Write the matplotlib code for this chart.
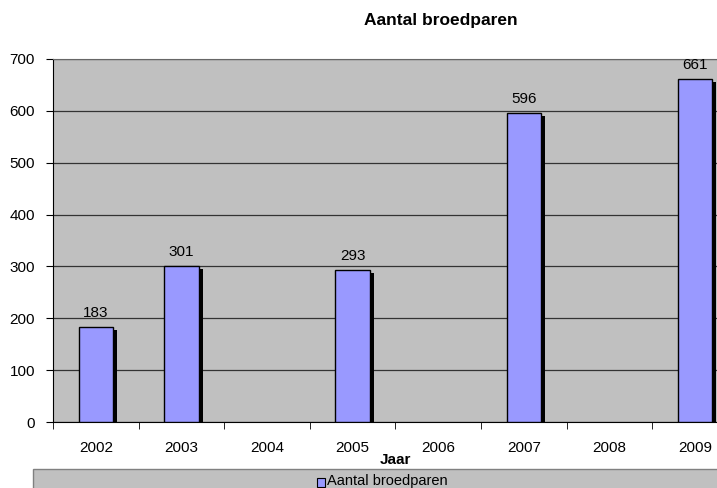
import matplotlib.pyplot as plt
import matplotlib.patheffects as pe
from matplotlib.patches import Rectangle

plt.rcParams['font.family'] = ['Liberation Sans', 'DejaVu Sans']

# data
years = ['2002', '2003', '2004', '2005', '2006', '2007', '2008', '2009']
pairs = [183, 301, None, 293, None, 596, None, 661]

fig = plt.figure(figsize=(7.17, 4.88), dpi=100)
# plot area runs past the right edge, like the cropped original
ax = fig.add_axes([53 / 717, 1 - 422 / 488, 8 * 85.6 / 717, 363 / 488])
ax.set_facecolor('#C0C0C0')

xs = [i for i, v in enumerate(pairs) if v is not None]
vals = [v for v in pairs if v is not None]
bars = ax.bar(xs, vals, width=0.4, color='#9999FF', edgecolor='black',
              linewidth=1, zorder=3)
for b in bars:
    b.set_path_effects([pe.SimplePatchShadow(offset=(3, -2), shadow_rgbFace='black', alpha=1.0),
                        pe.Normal()])
for x, v in zip(xs, vals):
    ax.text(x, v + 13, str(v), ha='center', va='bottom', fontsize=11)

ax.set_xlim(-0.5, 7.5)
ax.set_ylim(0, 700)
ax.set_yticks(range(0, 701, 100))
ax.yaxis.grid(True, color='#333333', linewidth=0.9, zorder=1)
ax.set_axisbelow(True)

ax.set_xticks(range(8))
ax.set_xticklabels(years, fontsize=11)
ax.set_xticks([i + 0.5 for i in range(-1, 8)], minor=True)
ax.tick_params(axis='x', which='major', length=0, pad=14)
ax.tick_params(axis='x', which='minor', length=5, direction='out', color='black')
ax.tick_params(axis='y', length=5, direction='out', labelsize=11, pad=8)

for side in ['top', 'right']:
    ax.spines[side].set_color('#666666')
ax.spines['left'].set_color('black')
ax.spines['bottom'].set_color('black')

ax.set_xlabel('Jaar', fontsize=11, fontweight='bold', labelpad=-2)

fig.text(441 / 717, 1 - 20 / 488, 'Aantal broedparen', ha='center', va='center',
         fontsize=12.5, fontweight='bold')

# legend strip at bottom (cut off in the original)
fig.patches.append(Rectangle((33 / 717, -0.05), 0.99, 0.05 + 19 / 488,
                             transform=fig.transFigure, facecolor='#C0C0C0',
                             edgecolor='#808080', linewidth=1))
fig.patches.append(Rectangle((317 / 717, 1 - 487 / 488), 8 / 717, 9 / 488,
                             transform=fig.transFigure, facecolor='#9999FF',
                             edgecolor='black', linewidth=0.8))
fig.text(327 / 717, 1 - 481 / 488, 'Aantal broedparen', ha='left', va='center',
         fontsize=10.5)

fig.savefig('out.png', dpi=100)
